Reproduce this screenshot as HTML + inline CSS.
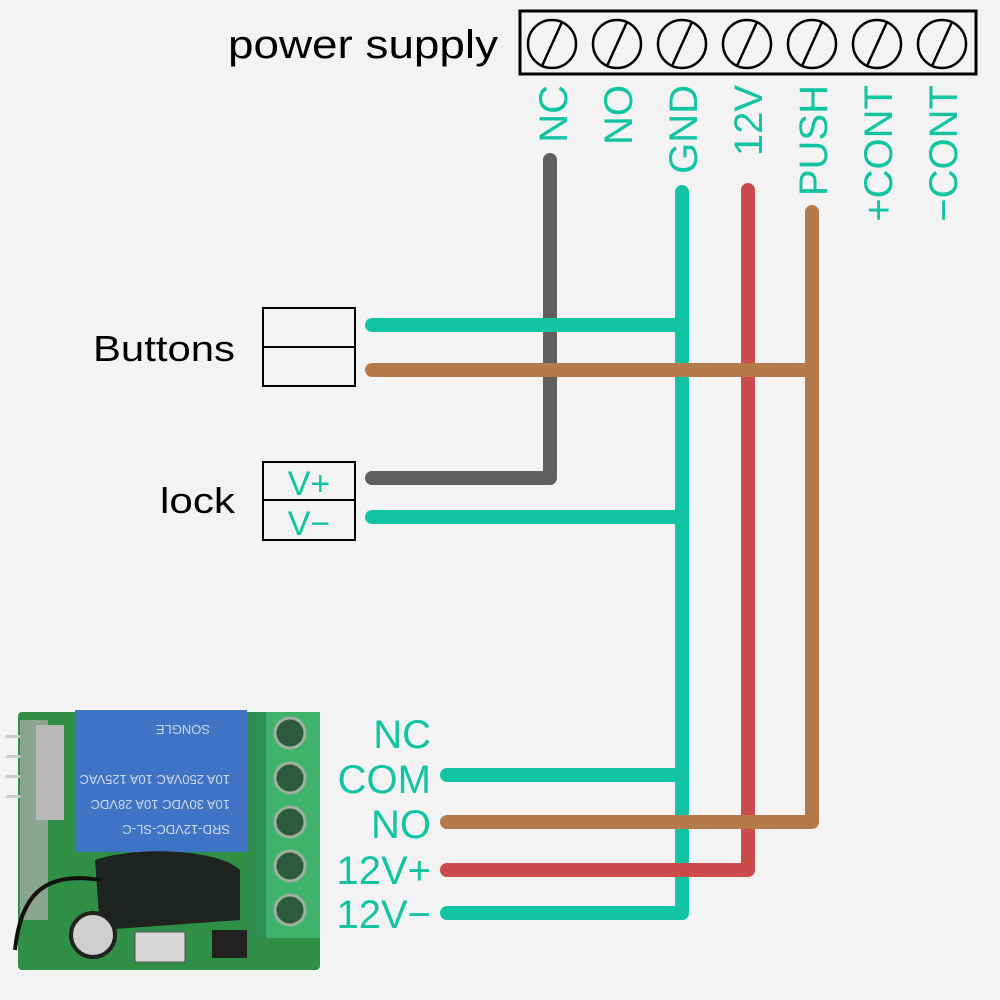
<!DOCTYPE html>
<html><head><meta charset="utf-8"><style>
html,body{margin:0;padding:0;background:#f3f3f3;}
svg{display:block;}
text{font-family:"Liberation Sans",sans-serif;}
</style></head><body>
<svg width="1000" height="1000" viewBox="0 0 1000 1000" xmlns="http://www.w3.org/2000/svg">
<rect width="1000" height="1000" fill="#f3f3f3"/>
<text x="228" y="58" font-size="40" fill="#000" textLength="270" lengthAdjust="spacingAndGlyphs">power supply</text>
<rect x="520" y="11" width="456" height="63" fill="none" stroke="#000" stroke-width="3"/>
<g fill="none" stroke="#000" stroke-width="2.5">
<circle cx="552" cy="44" r="24"/><line x1="542" y1="66" x2="562" y2="22"/>
<circle cx="617" cy="44" r="24"/><line x1="607" y1="66" x2="627" y2="22"/>
<circle cx="682" cy="44" r="24"/><line x1="672" y1="66" x2="692" y2="22"/>
<circle cx="747" cy="44" r="24"/><line x1="737" y1="66" x2="757" y2="22"/>
<circle cx="812" cy="44" r="24"/><line x1="802" y1="66" x2="822" y2="22"/>
<circle cx="877" cy="44" r="24"/><line x1="867" y1="66" x2="887" y2="22"/>
<circle cx="942" cy="44" r="24"/><line x1="932" y1="66" x2="952" y2="22"/>
</g>
<g fill="#13c4a3" font-size="40" text-anchor="end">
<text transform="translate(567,85) rotate(-90)">NC</text>
<text transform="translate(632,85) rotate(-90)">NO</text>
<text transform="translate(697,85) rotate(-90)">GND</text>
<text transform="translate(762,85) rotate(-90)">12V</text>
<text transform="translate(827,85) rotate(-90)">PUSH</text>
<text transform="translate(892,85) rotate(-90)">+CONT</text>
<text transform="translate(957,85) rotate(-90)">−CONT</text>
</g>
<g fill="none" stroke-width="14" stroke-linecap="round" stroke-linejoin="round">
<polyline points="550,160 550,478 372,478" stroke="#5f5f5f"/>
<line x1="682" y1="192" x2="682" y2="913" stroke="#13c4a3"/>
<line x1="372" y1="325" x2="682" y2="325" stroke="#13c4a3"/>
<line x1="372" y1="517" x2="682" y2="517" stroke="#13c4a3"/>
<polyline points="748,190 748,870 447,870" stroke="#cc4c4c"/>
<polyline points="812,212 812,822 447,822" stroke="#b57a4c"/>
<polyline points="372,370 812,370" stroke="#b57a4c"/>
<polyline points="447,775 682,775" stroke="#13c4a3"/>
<polyline points="447,913 682,913" stroke="#13c4a3"/>
</g>
<text x="93" y="361" font-size="36" fill="#000" textLength="142" lengthAdjust="spacingAndGlyphs">Buttons</text>
<rect x="263" y="308" width="92" height="78" fill="none" stroke="#000" stroke-width="2"/>
<line x1="263" y1="347" x2="355" y2="347" stroke="#000" stroke-width="2"/>
<text x="160" y="513" font-size="36" fill="#000" textLength="75" lengthAdjust="spacingAndGlyphs">lock</text>
<rect x="263" y="462" width="92" height="78" fill="none" stroke="#000" stroke-width="2"/>
<line x1="263" y1="500" x2="355" y2="500" stroke="#000" stroke-width="2"/>
<text x="309" y="495" font-size="34" fill="#13c4a3" text-anchor="middle">V+</text>
<text x="309" y="535" font-size="34" fill="#13c4a3" text-anchor="middle">V−</text>
<g fill="#13c4a3" font-size="40" text-anchor="end">
<text x="431" y="748">NC</text>
<text x="431" y="793">COM</text>
<text x="431" y="838">NO</text>
<text x="431" y="884">12V+</text>
<text x="431" y="928">12V−</text>
</g>
<!-- PCB -->
<rect x="18" y="712" width="302" height="258" rx="4" fill="#2f8f45"/>
<rect x="20" y="720" width="28" height="200" fill="#8aa58f"/>
<rect x="36" y="725" width="28" height="95" fill="#b9b9b9"/>
<rect x="6" y="735" width="14" height="3" fill="#ccc"/><rect x="6" y="755" width="14" height="3" fill="#ccc"/><rect x="6" y="775" width="14" height="3" fill="#ccc"/><rect x="6" y="795" width="14" height="3" fill="#ccc"/>
<rect x="75" y="710" width="172" height="142" fill="#3f73c4"/>
<g fill="#cfd9ef" font-size="13" transform="rotate(180 160 780)"><text x="90" y="735">SRD-12VDC-SL-C</text><text x="90" y="760">10A 30VDC 10A 28VDC</text><text x="90" y="785">10A 250VAC 10A 125VAC</text><text x="110" y="835">SONGLE</text></g>
<path d="M95 860 C140 845,220 850,240 870 L240 920 L100 930 Z" fill="#1e2320"/>
<circle cx="93" cy="935" r="22" fill="#cfcfcf"/><circle cx="93" cy="935" r="22" fill="none" stroke="#222" stroke-width="4"/>
<rect x="135" y="932" width="50" height="30" fill="#d8d8d8" stroke="#555"/>
<rect x="212" y="930" width="35" height="28" fill="#222"/>
<path d="M100 880 C40 870,20 900,15 950" fill="none" stroke="#111" stroke-width="4"/>
<rect x="252" y="712" width="68" height="226" fill="#3fb26b"/>
<rect x="252" y="712" width="14" height="226" fill="#2e8f54"/>
<g fill="#2d5a3b" stroke="#9fb0a3" stroke-width="3">
<circle cx="290" cy="733" r="15"/><circle cx="290" cy="778" r="15"/><circle cx="290" cy="822" r="15"/><circle cx="290" cy="866" r="15"/><circle cx="290" cy="910" r="15"/>
</g>
</svg>
</body></html>
